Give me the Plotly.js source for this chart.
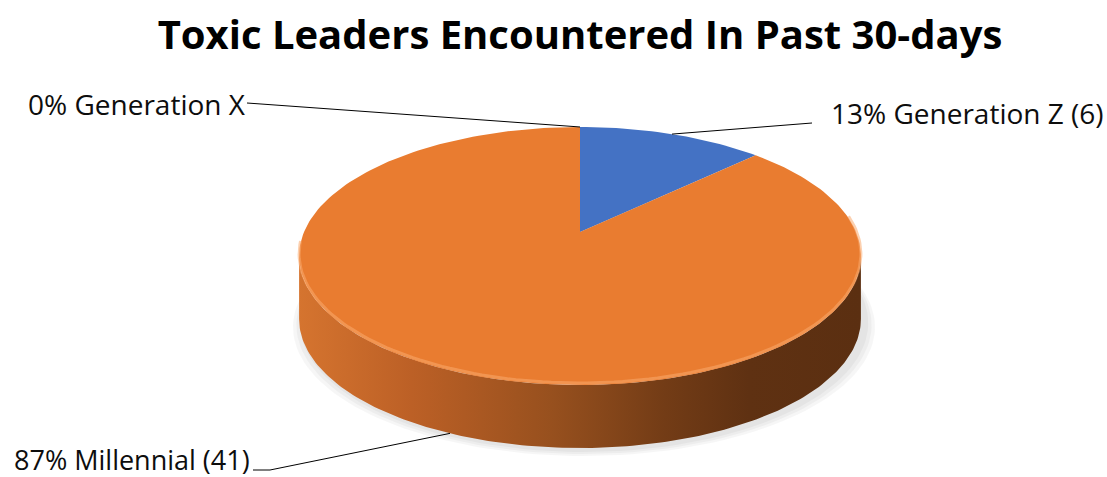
<!DOCTYPE html>
<html>
<head>
<meta charset="utf-8">
<script src="https://cdn.plot.ly/plotly-3.0.1.min.js"></script>
<style>html,body{margin:0;padding:0;background:#fff;}#chart{width:1107px;height:477px;}</style>
</head>
<body>
<div id="chart"></div>
<script>
// ---- data ----
const categories = ['Generation X', 'Generation Z', 'Millennial'];
const counts = [0, 6, 41];
const labelTexts = ['0% Generation X', '13% Generation Z (6)', '87% Millennial (41)'];
const chartTitle = 'Toxic Leaders Encountered In Past 30-days';

// ---- styles / geometry (not data) ----
const sliceColors = ['#A5A5A5', '#4472C4', '#E97C30'];
const W = 1107, H = 477;
const CX = 580, CY = 232, A = 276, G = 0.186, E = -81.4, DEPTH = 63;
// label placement: text anchor + where the leader line leaves the label
const labelLayout = [
  {x: 26,  y: 104, size: 28, lead: [[247, 103]], onSide: false},
  {x: 829, y: 113, size: 28, lead: [[812, 123]], onSide: false},
  {x: 12,  y: 459, size: 27, lead: [[253, 470], [270, 470]], onSide: true}
];

function proj(theta, dz) {
  const X = Math.sin(theta), Y = Math.cos(theta);
  const den = 1 + G * Y;
  return [CX + A * X / den, (CY + E * Y) / den + (dz || 0)];
}
function arc(t0, t1, dz, n) {
  const xs = [], ys = [];
  for (let i = 0; i <= n; i++) {
    const t = t0 + (t1 - t0) * i / n;
    const p = proj(t, dz);
    xs.push(p[0]); ys.push(p[1]);
  }
  return [xs, ys];
}

const total = counts.reduce((a, b) => a + b, 0);
const traces = [];

// soft shadow under the pie
for (let k = 3; k >= 1; k--) {
  const [bx, by] = arc(0, 2 * Math.PI, DEPTH, 180);
  traces.push({
    x: bx.map(v => CX + (v - CX) * (1 + 0.012 * k) + 4),
    y: by.map(v => v + 2 + 2 * k),
    mode: 'lines', fill: 'toself', line: {width: 0},
    fillcolor: 'rgba(0,0,0,0.035)', hoverinfo: 'skip', showlegend: false
  });
}

// side band (visible front part of the cylinder)
const tS = Math.acos(-G), tE = 2 * Math.PI - Math.acos(-G);
{
  const [tx, ty] = arc(tS, tE, 0, 160);
  const [bx, by] = arc(tE, tS, DEPTH, 160);
  traces.push({
    x: tx.concat(bx, [tx[0]]), y: ty.concat(by, [ty[0]]),
    mode: 'lines', fill: 'toself', line: {width: 0},
    fillgradient: {type: 'horizontal', colorscale: [
      [0, '#D5742F'], [0.2, '#BC6026'], [0.45, '#97501E'], [0.65, '#733C16'], [0.8, '#5F3112'], [1, '#5B2F11']]},
    fillcolor: '#9A5020', hoverinfo: 'skip', showlegend: false
  });
}

// top face slices
let cum = 0;
const mids = [];
counts.forEach((c, i) => {
  const t0 = cum / total * 2 * Math.PI;
  cum += c;
  const t1 = cum / total * 2 * Math.PI;
  mids.push((t0 + t1) / 2);
  if (c === 0) return;
  const n = Math.max(4, Math.ceil((t1 - t0) / (2 * Math.PI) * 240));
  const [ax, ay] = arc(t0, t1, 0, n);
  traces.push({
    x: [CX].concat(ax, [CX]), y: [CY].concat(ay, [CY]),
    mode: 'lines', fill: 'toself', line: {width: 0},
    fillcolor: sliceColors[i], name: categories[i],
    hoverinfo: 'name', showlegend: false
  });
});

// subtle bevel highlight along the front rim
{
  const [hx, hy] = arc(tS - 0.3, tE + 0.1, -2, 120);
  traces.push({x: hx, y: hy, mode: 'lines', line: {color: 'rgba(250,170,110,0.55)', width: 3},
    hoverinfo: 'skip', showlegend: false});
}

// leader lines
labelLayout.forEach((L, i) => {
  const p = proj(mids[i], L.onSide ? DEPTH : 0);
  const pts = L.lead.concat([p]);
  traces.push({
    x: pts.map(q => q[0]), y: pts.map(q => q[1]),
    mode: 'lines', line: {color: '#000', width: 1},
    hoverinfo: 'skip', showlegend: false
  });
});

const annotations = labelLayout.map((L, i) => ({
  x: L.x, y: L.y, xref: 'x', yref: 'y', xanchor: 'left', yanchor: 'middle',
  text: labelTexts[i], showarrow: false,
  font: {family: 'Open Sans, sans-serif', size: L.size, color: '#0D0D0D'}
}));

const layout = {
  width: W, height: H,
  margin: {l: 0, r: 0, t: 0, b: 0},
  paper_bgcolor: '#fff', plot_bgcolor: '#fff',
  title: {
    text: chartTitle, xref: 'paper', yref: 'container',
    x: 580 / W, xanchor: 'center', y: 1 - 35 / H, yanchor: 'middle',
    font: {family: 'Open Sans, sans-serif', size: 40, color: '#000', weight: 'bold'}
  },
  xaxis: {range: [0, W], visible: false, fixedrange: true},
  yaxis: {range: [H, 0], visible: false, fixedrange: true},
  annotations: annotations,
  showlegend: false
};

Plotly.newPlot('chart', traces, layout, {displayModeBar: false, staticPlot: true});
</script>
</body>
</html>
